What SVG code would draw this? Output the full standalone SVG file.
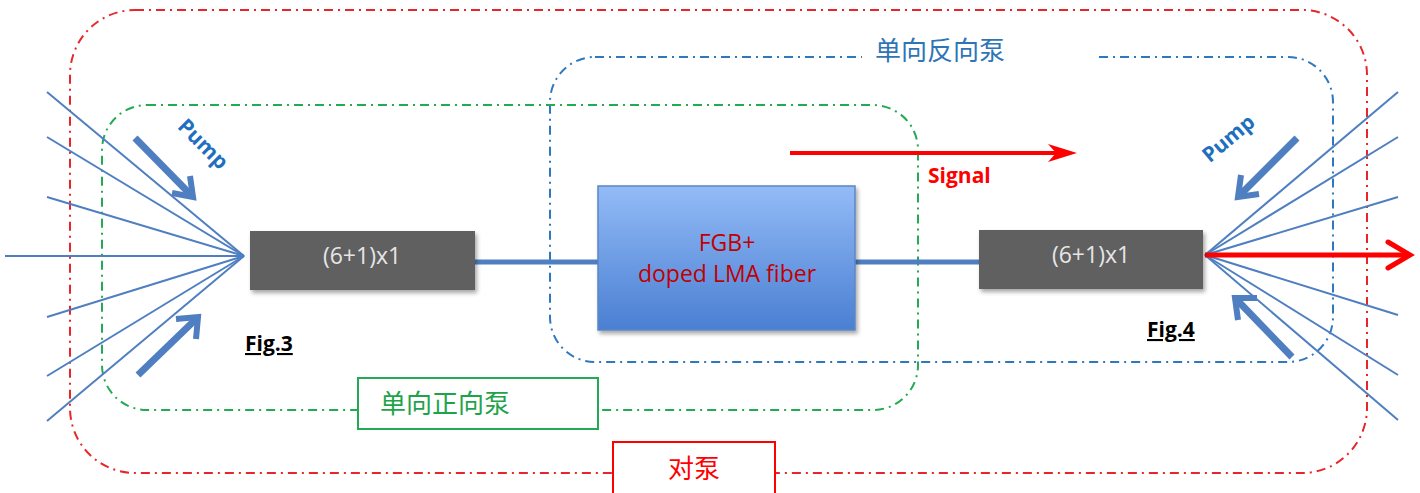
<svg xmlns="http://www.w3.org/2000/svg" width="1420" height="493" viewBox="0 0 1420 493">
  <style>
    .region { fill: none; stroke-width: 2; stroke-dasharray: 9 5 2 5; }
    .fan { stroke: #4f7fc1; stroke-width: 2; fill: none; }
    .link { stroke: #4f7fc1; stroke-width: 5; fill: none; }
    .pump { stroke: #4f7fc1; stroke-width: 7; fill: none; stroke-linecap: butt; }
    .pumphead { stroke: #4f7fc1; stroke-width: 6; fill: none; stroke-linejoin: miter; }
    .combiner { fill: #606060; }
    .comb-text { font-family: "Open Sans", "Liberation Sans", sans-serif; font-size: 23px; fill: #e6e6e6; text-anchor: middle; }
    .cjk { font-family: "Noto Sans CJK SC", serif; font-size: 26px; }
    .fig { font-family: "Open Sans", "Liberation Sans", sans-serif; font-weight: bold; font-size: 21px; fill: #000; text-decoration: underline; }
    .pumplabel { font-family: "Open Sans", "Liberation Sans", sans-serif; font-weight: bold; font-size: 21px; fill: #1f6fc0; text-anchor: middle; }
  </style>
  <defs>
    <linearGradient id="fiberGrad" x1="0" y1="0" x2="0" y2="1">
      <stop offset="0" stop-color="#93bbf7"/>
      <stop offset="1" stop-color="#4a7fd2"/>
    </linearGradient>
    <filter id="shadow" x="-10%" y="-10%" width="125%" height="130%">
      <feDropShadow dx="2" dy="3" stdDeviation="2" flood-color="#000" flood-opacity="0.35"/>
    </filter>
  </defs>

  <!-- pumping regions -->
  <g id="region-bidirectional">
    <rect class="region" x="70" y="10" width="1297" height="463" rx="65" ry="65" stroke="#e8262a"/>
  </g>
  <g id="region-backward">
    <rect class="region" x="550" y="57" width="783" height="305" rx="45" ry="45" stroke="#2e78c0"/>
    <rect x="862" y="36" width="232" height="34" fill="#fff"/>
    <text class="cjk" x="940" y="60" fill="#2e75b6" text-anchor="middle">单向反向泵</text>
  </g>
  <g id="region-forward">
    <rect class="region" x="102" y="105" width="816" height="305" rx="45" ry="45" stroke="#22aa55"/>
    <rect x="358" y="378" width="240" height="51" fill="#fff" stroke="#22aa55" stroke-width="2"/>
    <text class="cjk" x="445" y="413" fill="#1fa34a" text-anchor="middle">单向正向泵</text>
  </g>
  <g id="label-bidirectional">
    <rect x="613" y="442" width="162" height="60" fill="#fff" stroke="#ff0000" stroke-width="2"/>
    <text class="cjk" x="694" y="478" fill="#ff0000" text-anchor="middle">对泵</text>
  </g>

  <!-- connectors -->
  <g id="connectors">
    <!-- left pump fan -->
    <line class="fan" x1="47" y1="92" x2="244" y2="256"/>
    <line class="fan" x1="47" y1="137" x2="244" y2="256"/>
    <line class="fan" x1="47" y1="197" x2="244" y2="256"/>
    <line class="fan" x1="5" y1="256" x2="244" y2="256"/>
    <line class="fan" x1="47" y1="317" x2="244" y2="256"/>
    <line class="fan" x1="47" y1="376" x2="244" y2="256"/>
    <line class="fan" x1="47" y1="421" x2="244" y2="256"/>
    <!-- right pump fan -->
    <line class="fan" x1="1398" y1="92" x2="1205" y2="255"/>
    <line class="fan" x1="1398" y1="137" x2="1205" y2="255"/>
    <line class="fan" x1="1398" y1="197" x2="1205" y2="255"/>
    <line class="fan" x1="1398" y1="315" x2="1205" y2="255"/>
    <line class="fan" x1="1398" y1="375" x2="1205" y2="255"/>
    <line class="fan" x1="1398" y1="420" x2="1205" y2="255"/>
    <!-- fiber links -->
    <line class="link" x1="474" y1="262" x2="600" y2="262"/>
    <line class="link" x1="854" y1="262" x2="980" y2="262"/>
    <!-- output signal -->
    <line x1="1205" y1="255" x2="1408" y2="255" stroke="#ff0000" stroke-width="5"/>
    <polyline points="1388,242 1410,255 1388,268" fill="none" stroke="#ff0000" stroke-width="5" stroke-linecap="round"/>
    <!-- signal direction -->
    <line x1="790" y1="153" x2="1060" y2="153" stroke="#ff0000" stroke-width="4"/>
    <polygon points="1077,153 1048,144 1056,153 1048,162" fill="#ff0000"/>
    <!-- pump direction arrows -->
    <line class="pump" x1="135" y1="138" x2="190" y2="194"/>
    <polyline class="pumphead" points="172,193 193,197 190,176"/>
    <line class="pump" x1="138" y1="375" x2="195" y2="320"/>
    <polyline class="pumphead" points="176,319 198,317 196,339"/>
    <line class="pump" x1="1297" y1="138" x2="1241" y2="194"/>
    <polyline class="pumphead" points="1241,175 1238,197 1259,194"/>
    <line class="pump" x1="1292" y1="357" x2="1238" y2="301"/>
    <polyline class="pumphead" points="1257,298 1235,298 1238,320"/>
  </g>

  <!-- components -->
  <g id="combiner-left">
    <rect class="combiner" x="250" y="231" width="225" height="59" filter="url(#shadow)"/>
    <text class="comb-text" x="362" y="264">(6+1)x1</text>
  </g>
  <g id="combiner-right">
    <rect class="combiner" x="979" y="230" width="224" height="59" filter="url(#shadow)"/>
    <text class="comb-text" x="1091" y="263">(6+1)x1</text>
  </g>
  <g id="gain-fiber">
    <rect x="598" y="186" width="257" height="144" fill="url(#fiberGrad)" stroke="#5b87c5" stroke-width="1.5" filter="url(#shadow)"/>
    <text x="727" y="251" font-family="'Open Sans', 'Liberation Sans', sans-serif" font-size="23" fill="#c00000" text-anchor="middle">FGB+</text>
    <text x="727" y="282" font-family="'Open Sans', 'Liberation Sans', sans-serif" font-size="23" fill="#c00000" text-anchor="middle">doped LMA fiber</text>
  </g>

  <!-- labels -->
  <g id="labels">
    <text class="pumplabel" transform="translate(198,149) rotate(45)">Pump</text>
    <text class="pumplabel" transform="translate(1233,144) rotate(-40)">Pump</text>
    <text class="fig" x="245" y="351">Fig.3</text>
    <text class="fig" x="1147" y="337">Fig.4</text>
    <text x="928" y="183" font-family="'Open Sans', 'Liberation Sans', sans-serif" font-weight="bold" font-size="21" fill="#ff0000">Signal</text>
  </g>
</svg>
